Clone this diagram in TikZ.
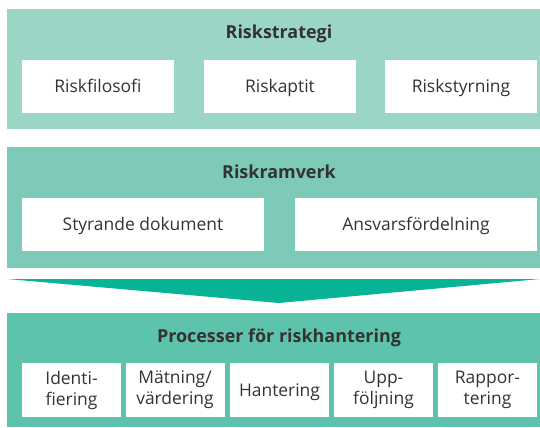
\documentclass[tikz,border=0pt]{standalone}
\usepackage{fontspec}
\setmainfont{Open Sans}
\definecolor{strategibg}{HTML}{9AD5C6}
\definecolor{ramverkbg}{HTML}{7ECAB8}
\definecolor{processbg}{HTML}{5EC3AD}
\definecolor{pilgron}{HTML}{08B495}
\definecolor{textgra}{HTML}{333333}
\tikzset{
    rubrik/.style={font=\fontsize{18}{21}\selectfont\bfseries, text=textgra,
        inner sep=0pt, text height=12.9bp, text depth=0pt},
    ruta/.style={fill=white, inner sep=0pt, outer sep=0pt, minimum height=53bp,
        font=\fontsize{17.5}{21}\selectfont, text=textgra, align=center},
    enrad/.style={ruta, text height=12.5bp, text depth=0pt}
}
\begin{document}
\begin{tikzpicture}[x=1bp, y=-1bp]
        \useasboundingbox (0,0) rectangle (540,427);

        % Riskstrategi
        \fill[strategibg] (7,9) rectangle (540,129);
        \node[rubrik] (strategi) at (279,32.5) {Riskstrategi};
        \node[enrad, minimum width=152bp] (filosofi) at (98,86.5) {Riskfilosofi};
        \node[enrad, minimum width=152bp] (aptit) at (280,86.5) {Riskaptit};
        \node[enrad, minimum width=152bp] (styrning) at (461,86.5) {Riskstyrning};

        % Riskramverk
        \fill[ramverkbg] (7,147) rectangle (540,268);
        \node[rubrik] (ramverk) at (279,172) {Riskramverk};
        \node[enrad, minimum width=242bp] (dokument) at (143,224.5) {Styrande dokument};
        \node[enrad, minimum width=242bp] (ansvar) at (416,224.5) {Ansvarsfördelning};

        % pil
        \fill[pilgron] (7,279) -- (540,279) -- (279,303) -- cycle;

        % Processer
        \fill[processbg] (7,313) rectangle (540,427);
        \node[rubrik] (process) at (279,336) {Processer för riskhantering};
        \node[ruta, minimum width=99bp, minimum height=54bp] (ident) at (71.5,390) {Identi-\\fiering};
        \node[ruta, minimum width=99bp, minimum height=54bp] (matning) at (175,390) {Mätning/\\värdering};
        \node[enrad, minimum width=99bp, minimum height=54bp] (hantering) at (279.5,390) {Hantering};
        \node[ruta, minimum width=99bp, minimum height=54bp] (uppfoljning) at (383.5,390) {Upp-\\följning};
        \node[ruta, minimum width=99bp, minimum height=54bp] (rapport) at (487.5,390) {Rappor-\\tering};
    \end{tikzpicture}
\end{document}
